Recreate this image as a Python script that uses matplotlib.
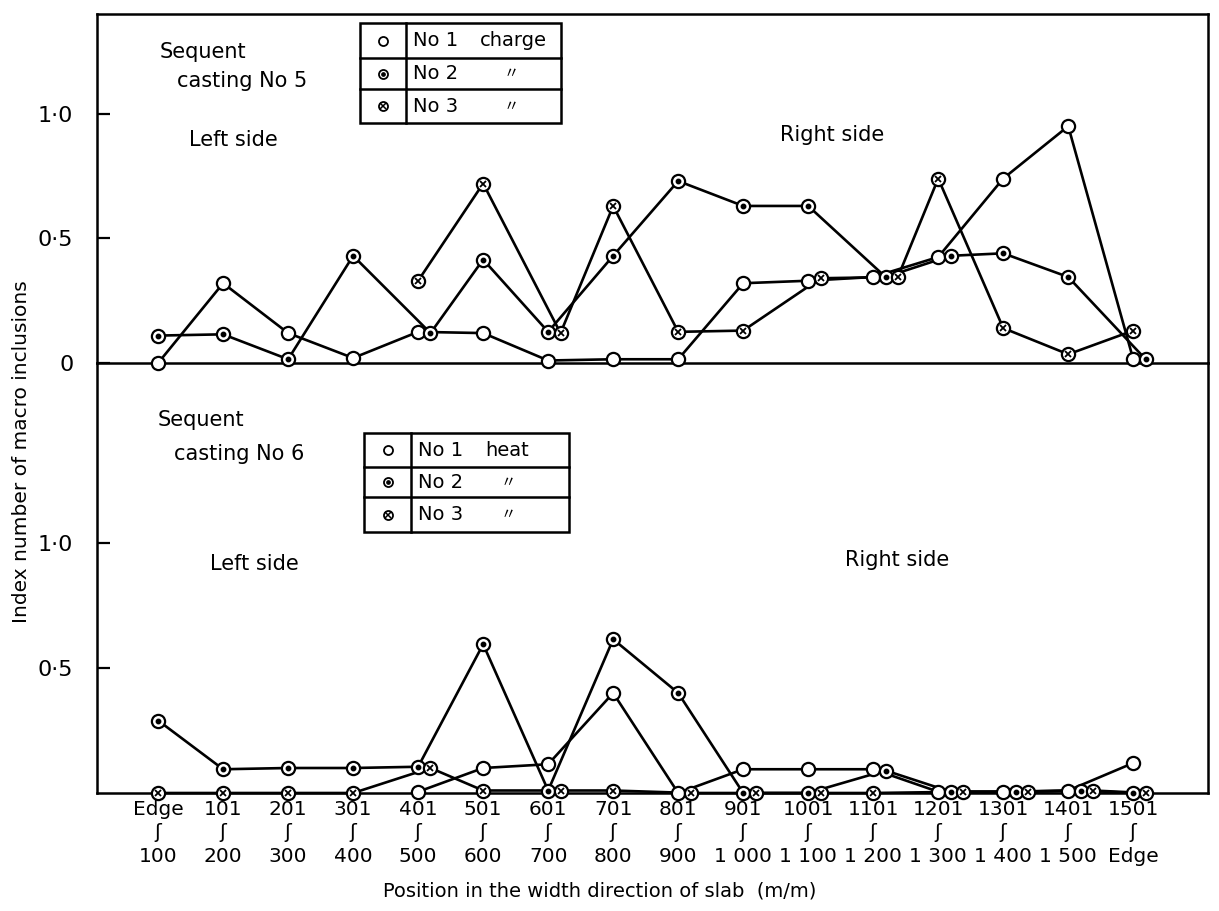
import numpy as np
import matplotlib.pyplot as plt
from matplotlib.lines import Line2D
from matplotlib.patches import Rectangle

# ---- data ----
pos_from = ['Edge', '101', '201', '301', '401', '501', '601', '701', '801',
            '901', '1001', '1101', '1201', '1301', '1401', '1501']
pos_to = ['100', '200', '300', '400', '500', '600', '700', '800', '900',
          '1 000', '1 100', '1 200', '1 300', '1 400', '1 500', 'Edge']

nan = np.nan
# Sequent casting No 5 (charges)
c5_no1 = [0.0, 0.32, 0.12, 0.02, 0.125, 0.12, 0.01, 0.015, 0.015, 0.32, 0.33, 0.345, 0.425, 0.74, 0.95, 0.015]
c5_no2 = [0.11, 0.115, 0.015, 0.43, 0.12, 0.415, 0.125, 0.43, 0.73, 0.63, 0.63, 0.345, 0.43, 0.44, 0.345, 0.015]
c5_no3 = [nan, nan, nan, nan, 0.33, 0.72, 0.12, 0.63, 0.125, 0.13, 0.34, 0.345, 0.74, 0.14, 0.035, 0.13]
# Sequent casting No 6 (heats)
c6_no1 = [nan, nan, nan, nan, 0.005, 0.10, 0.115, 0.40, 0.0, 0.095, 0.095, 0.095, 0.005, 0.005, 0.01, 0.12]
c6_no2 = [0.29, 0.095, 0.10, 0.10, 0.105, 0.595, 0.01, 0.615, 0.40, 0.0, 0.0, 0.09, 0.005, 0.005, 0.01, 0.0]
c6_no3 = [0.0, 0.0, 0.0, 0.0, 0.10, 0.01, 0.01, 0.01, 0.0, 0.0, 0.0, 0.0, 0.005, 0.005, 0.01, 0.0]

W, H = 1219, 911
fig = plt.figure(figsize=(W / 100, H / 100), dpi=100)


def fx(v):
    return v / W


def fy(v):
    return 1 - v / H


ax_top = fig.add_axes([fx(97), fy(363), fx(1208) - fx(97), fy(14) - fy(363)])
ax_bot = fig.add_axes([fx(97), fy(793), fx(1208) - fx(97), fy(363) - fy(793)])
ax_bot.patch.set_visible(False)

x = np.arange(len(pos_from))


def dodge(series, tol=0.03, step=0.19):
    # markers that sit on the same level are put side by side
    offs = [np.zeros(len(x)) for _ in series]
    for i in range(len(x)):
        groups = []
        for k, s in enumerate(series):
            v = s[i]
            if np.isnan(v):
                continue
            for g in groups:
                if any(abs(v - gv) <= tol for _, gv in g):
                    g.append((k, v))
                    break
            else:
                groups.append([(k, v)])
        for g in groups:
            for j, (k, v) in enumerate(g):
                offs[k][i] = j * step
    return offs


def draw_panel(ax, series):
    series = [np.array(s, dtype=float) for s in series]
    offs = dodge(series)
    for s, o in zip(series, offs):
        ax.plot(x + o, s, color='black', lw=1.9, zorder=2, clip_on=False)
    for k, (s, o) in enumerate(zip(series, offs)):
        ax.plot(x + o, s, ls='none', marker='o', ms=9.5, mfc='white', mec='black',
                mew=1.6, zorder=3, clip_on=False)
        if k == 1:
            ax.plot(x + o, s, ls='none', marker='o', ms=3.2, color='black', zorder=4, clip_on=False)
        if k == 2:
            ax.plot(x + o, s, ls='none', marker='x', ms=5, color='black', mew=1.3,
                    zorder=4, clip_on=False)


draw_panel(ax_top, [c5_no1, c5_no2, c5_no3])
draw_panel(ax_bot, [c6_no1, c6_no2, c6_no3])

for ax in (ax_top, ax_bot):
    ax.set_xlim(-0.94, 16.15)
    for sp in ax.spines.values():
        sp.set_linewidth(1.8)
    ax.tick_params(axis='y', direction='in', length=9, width=1.6, pad=17, labelsize=16)

ax_top.set_ylim(0, 1.40)
ax_bot.set_ylim(0, 1.72)
ax_bot.spines['top'].set_visible(False)

ax_top.set_xticks([])
ax_top.set_yticks([0, 0.5, 1.0])
ax_top.set_yticklabels(['0', '0·5', '1·0'])
ax_bot.set_yticks([0.5, 1.0])
ax_bot.set_yticklabels(['0·5', '1·0'])

ax_bot.set_xticks(x)
ax_bot.set_xticklabels([f'{a}\nʃ\n{b}' for a, b in zip(pos_from, pos_to)],
                       fontsize=14.5, linespacing=1.3)
ax_bot.tick_params(axis='x', length=0, pad=5)

fig.text(fx(22), fy(452), 'Index number of macro inclusions', rotation=90,
         ha='center', va='center', fontsize=14.5)
fig.text(fx(600), fy(891), 'Position in the width direction of slab  (m/m)',
         ha='center', va='center', fontsize=14)

# panel annotations
fig.text(fx(160), fy(52), 'Sequent', va='center', fontsize=15)
fig.text(fx(177), fy(81), 'casting No 5', va='center', fontsize=15)
fig.text(fx(189), fy(140), 'Left side', va='center', fontsize=15)
fig.text(fx(780), fy(135), 'Right side', va='center', fontsize=15)
fig.text(fx(158), fy(420), 'Sequent', va='center', fontsize=15)
fig.text(fx(174), fy(454), 'casting No 6', va='center', fontsize=15)
fig.text(fx(210), fy(564), 'Left side', va='center', fontsize=15)
fig.text(fx(845), fy(560), 'Right side', va='center', fontsize=15)


def draw_key(x0, x1, xs, ys, word, xword, xditto):
    fig.add_artist(Rectangle((fx(x0), fy(ys[-1])), fx(x1) - fx(x0), fy(ys[0]) - fy(ys[-1]),
                             transform=fig.transFigure, fill=False, lw=1.8, ec='black'))
    for yy in ys[1:-1]:
        fig.add_artist(Line2D([fx(x0), fx(x1)], [fy(yy)] * 2, transform=fig.transFigure,
                              color='black', lw=1.8))
    fig.add_artist(Line2D([fx(xs)] * 2, [fy(ys[0]), fy(ys[-1])], transform=fig.transFigure,
                          color='black', lw=1.8))
    mx = (x0 + xs) / 2
    for k in range(3):
        yc = (ys[k] + ys[k + 1]) / 2
        fig.add_artist(Line2D([fx(mx)], [fy(yc)], transform=fig.transFigure, ls='none',
                              marker='o', ms=6.5, mfc='white', mec='black', mew=1.3))
        if k == 1:
            fig.add_artist(Line2D([fx(mx)], [fy(yc)], transform=fig.transFigure, ls='none',
                                  marker='o', ms=2.4, color='black'))
        if k == 2:
            fig.add_artist(Line2D([fx(mx)], [fy(yc)], transform=fig.transFigure, ls='none',
                                  marker='x', ms=3.8, color='black', mew=1.1))
        fig.text(fx(xs + 7), fy(yc), f'No {k + 1}', va='center', fontsize=14)
        if k == 0:
            fig.text(fx(xword), fy(yc), word, va='center', fontsize=14)
        else:
            fig.text(fx(xditto), fy(yc), '〃', va='center', ha='center', fontsize=11,
                     family=['Noto Sans CJK JP', 'DejaVu Sans'])


draw_key(360, 561, 406, [23, 58, 89, 123], 'charge', 480, 511)
draw_key(364, 569, 411, [433, 467, 497, 532], 'heat', 485, 508)

fig.savefig('out.png', dpi=100)
